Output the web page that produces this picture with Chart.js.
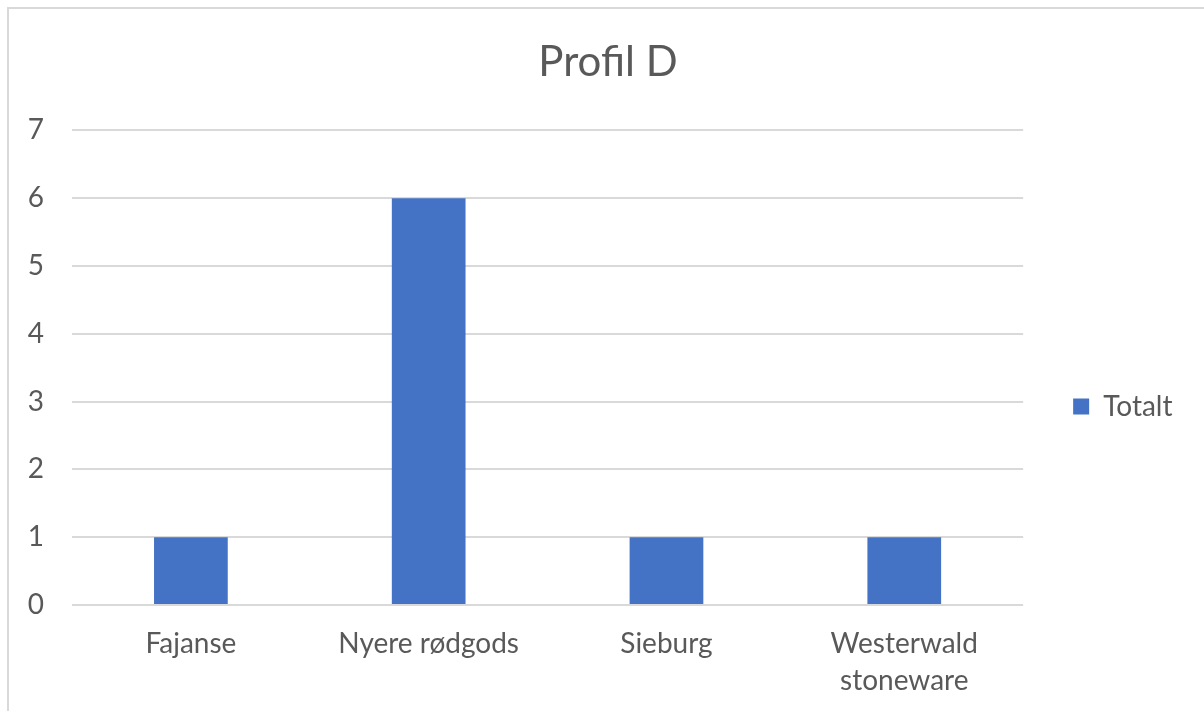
<!DOCTYPE html>
<html>
<head>
<meta charset="utf-8">
<script src="https://cdn.jsdelivr.net/npm/chart.js@4"></script>
<style>
  body { margin: 0; overflow: hidden; background: #fff; }
  .chartBox { position: absolute; left: 0; top: 0; width: 1204px; height: 711px; }
  .moldura { position: absolute; left: 7px; top: 7px; width: 1400px; height: 900px; border: 2px solid #d9d9d9; pointer-events: none; }
</style>
</head>
<body>
<div class="chartBox"><canvas id="myChart"></canvas></div>
<div class="moldura"></div>
<script>
const categorias = ['Fajanse', 'Nyere rødgods', 'Sieburg', ['Westerwald', 'stoneware']];
const totalt = [1, 6, 1, 1];
const yTicks = [0, 1, 2, 3, 4, 5, 6, 7];

const cinza = '#595959';
const fonte = 'Lato';

const data = {
  labels: categorias,
  datasets: [{
    label: 'Totalt',
    data: totalt,
    backgroundColor: '#4472C4',
    borderWidth: 0,
    categoryPercentage: 1,
    barPercentage: 0.31
  }]
};

// config
const config = {
  type: 'bar',
  data,
  options: {
    responsive: true,
    maintainAspectRatio: false,
    animation: false,
    layout: { padding: { left: 12, right: 0, top: 0, bottom: 0 } },
    plugins: {
      title: {
        display: true,
        text: 'Profil D',
        color: cinza,
        font: { family: fonte, size: 42, weight: 'normal' },
        padding: { top: 37, bottom: 43 }
      },
      legend: {
        position: 'right',
        title: {
          display: true,
          text: ' ',
          font: { size: 12, lineHeight: 1 },
          padding: { top: 0, bottom: 90 }
        },
        labels: {
          color: cinza,
          font: { family: fonte, size: 28 },
          boxWidth: 16,
          boxHeight: 16,
          padding: 50,
          // espaços no fim deixam a legenda mais larga, como no original
          generateLabels: function(chart) {
            const itens = Chart.defaults.plugins.legend.labels.generateLabels(chart);
            itens.forEach(i => { i.text = i.text + '   '; });
            return itens;
          }
        }
      },
      tooltip: { enabled: false }
    },
    scales: {
      x: {
        grid: { display: false, drawTicks: false },
        border: { display: false },
        ticks: {
          color: cinza,
          font: { family: fonte, size: 28, lineHeight: 1.3 },
          padding: 21,
          maxRotation: 0,
          autoSkip: false
        },
        afterFit: function(scale) { scale.height = 106; }
      },
      y: {
        min: 0,
        max: 7,
        afterBuildTicks: function(scale) { scale.ticks = yTicks.map(v => ({ value: v })); },
        grid: { color: '#d9d9d9', lineWidth: 2, drawTicks: false },
        border: { display: false },
        ticks: {
          color: cinza,
          font: { family: fonte, size: 28 },
          padding: 28
        },
        afterFit: function(scale) { scale.width = 60; }
      }
    }
  }
};

const myChart = new Chart(document.getElementById('myChart'), config);
</script>
</body>
</html>
